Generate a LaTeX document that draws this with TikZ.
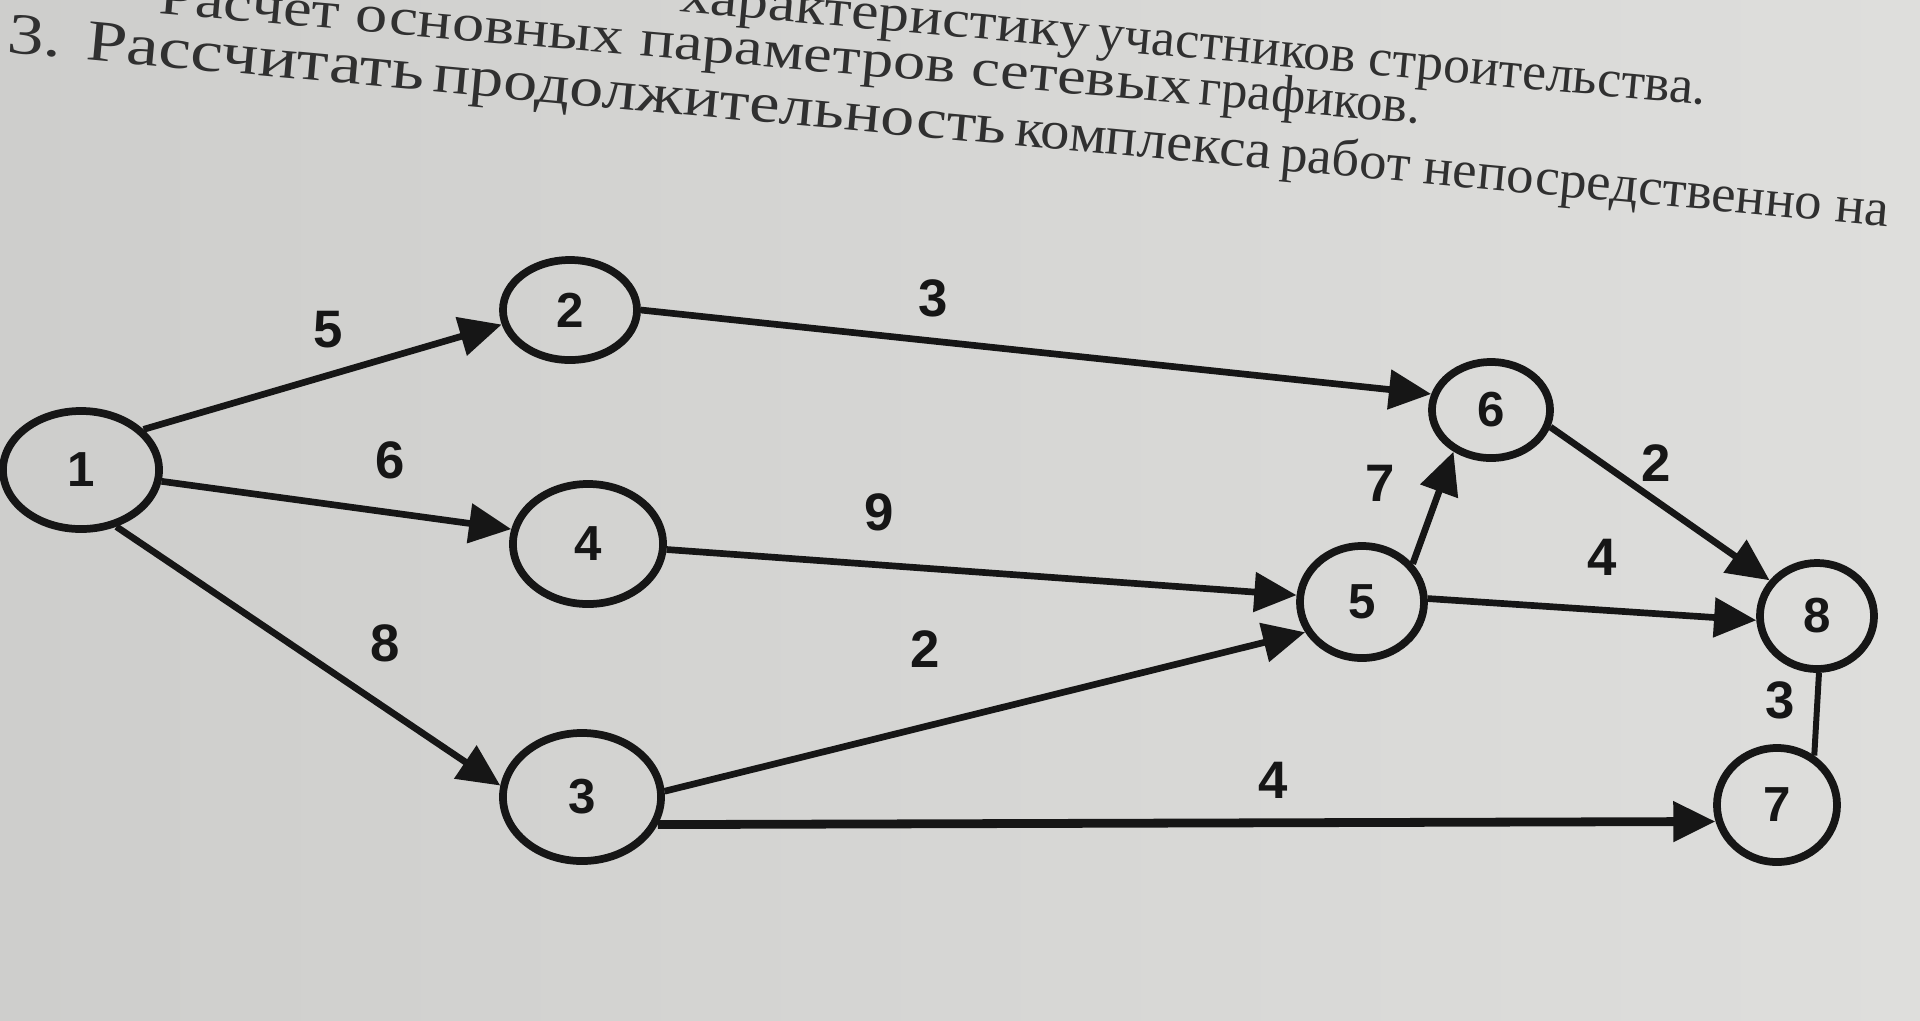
\documentclass[tikz,border=0pt]{standalone}
\usepackage{fontspec}
\setmainfont{Liberation Serif}
\newfontfamily\digitfont{Liberation Sans}
\usetikzlibrary{arrows.meta, shapes.geometric}

\definecolor{ink}{RGB}{22,22,22}
\definecolor{print}{RGB}{48,48,48}
\definecolor{paperL}{RGB}{206,206,204}
\definecolor{paperR}{RGB}{222,222,220}

% one piece of the slanted printed line: size, x stretch, text
\newcommand{\piece}[3]{\scalebox{#2}[1]{\fontsize{#1}{#1}\selectfont #3}}

\tikzset{
  ev/.style={ellipse, draw=ink, line width=2.2pt, inner sep=0pt, text=ink,
    font=\digitfont\bfseries\fontsize{14}{14}\selectfont},
  job/.style={draw=ink, line width=1.9pt, -{Triangle[length=12pt,width=11pt]}},
  dur/.style={text=ink, font=\digitfont\bfseries\fontsize{15}{15}\selectfont},
  heading/.style={text=print, inner sep=0pt},
}

\begin{document}
\begin{tikzpicture}[x=0.01cm, y=-0.01cm]
            \useasboundingbox (0,0) rectangle (1920,1020);
            \shade[left color=paperL, right color=paperR] (0,0) rectangle (1920,1020);
            \clip (0,0) rectangle (1920,1020);
            % printed text above the graph
            \node[heading, anchor=base east, rotate=-5.2] (t1) at (1706,105)
              {\piece{15}{1.17}{характеристику} \piece{15}{1.02}{участников строительства.}};
            \node[heading, anchor=base east, rotate=-5] (t2) at (1420,124)
              {\piece{15}{1.22}{Расчет основных параметров сетевых} \piece{15}{1.0}{графиков.}};
            \node[heading, anchor=base west, rotate=-5.3] (t3) at (6,52)
              {\piece{16.5}{1.255}{3. Рассчитать} \piece{16}{1.21}{продолжительность}
               \piece{15.5}{1.075}{комплекса} \piece{15}{1.04}{работ непосредственно на}};
            % events
            \node[ev, minimum width=1.56cm, minimum height=1.18cm] (n1) at (81,470) {1};
            \node[ev, minimum width=1.34cm, minimum height=1.00cm] (n2) at (570,310) {2};
            \node[ev, minimum width=1.58cm, minimum height=1.28cm] (n3) at (582,797) {3};
            \node[ev, minimum width=1.50cm, minimum height=1.20cm] (n4) at (588,544) {4};
            \node[ev, minimum width=1.24cm, minimum height=1.12cm] (n5) at (1362,602) {5};
            \node[ev, minimum width=1.18cm, minimum height=0.96cm] (n6) at (1491,410) {6};
            \node[ev, minimum width=1.20cm, minimum height=1.14cm] (n7) at (1777,805) {7};
            \node[ev, minimum width=1.14cm, minimum height=1.06cm] (n8) at (1817,616) {8};
            % jobs
            \draw[job] (n1.33) -- (n2.192);
            \draw[job] (n1.-8) -- (n4.169);
            \draw[job] (n1.-58) -- (n3.172);
            \draw[job] (n2.0) -- (n6.165);
            \draw[job] (n4.-4) -- (n5.174);
            \draw[job] (n3.4) -- (n5.208);
            \draw[job, line width=2.5pt] (n3.-20) -- (n7.195);
            \draw[job] (n5.37) -- (n6.228);
            \draw[job] (n5.3) -- (n8.184);
            \draw[job] (n6.-16) -- (n8.143);
            \draw[draw=ink, line width=1.7pt] (n7.53) -- (n8.272);
            % durations
            \node[dur] (d12) at (328,330) {5};
            \node[dur] (d14) at (390,460) {6};
            \node[dur] (d13) at (385,643) {8};
            \node[dur] (d26) at (933,298) {3};
            \node[dur] (d45) at (879,512) {9};
            \node[dur] (d35) at (925,649) {2};
            \node[dur] (d37) at (1273,780) {4};
            \node[dur] (d56) at (1380,483) {7};
            \node[dur] (d68) at (1656,463) {2};
            \node[dur] (d58) at (1602,557) {4};
            \node[dur] (d78) at (1780,700) {3};
        \end{tikzpicture}
\end{document}
